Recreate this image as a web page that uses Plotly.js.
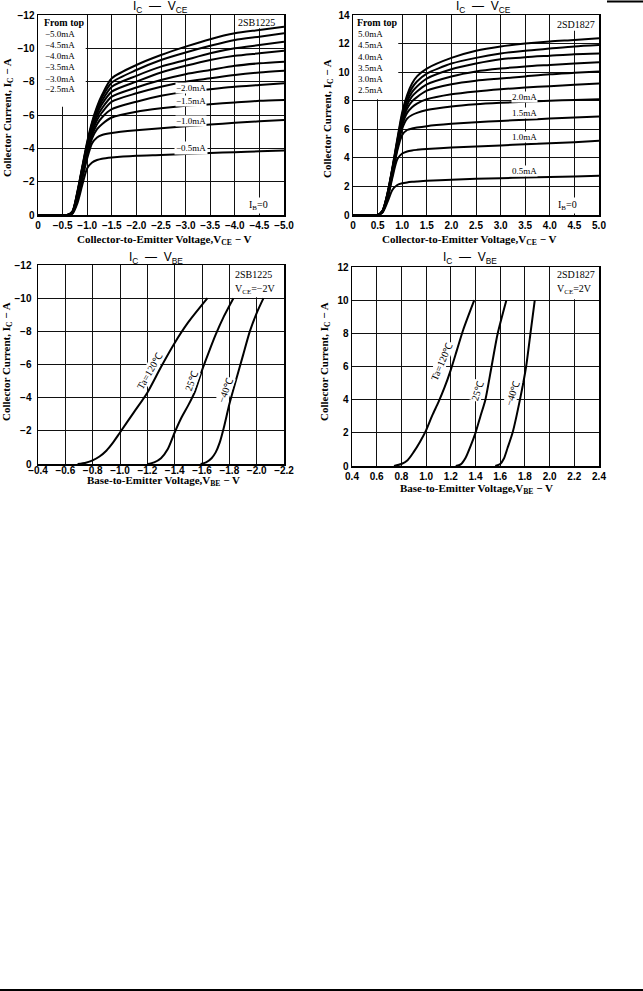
<!DOCTYPE html>
<html><head><meta charset="utf-8">
<script src="https://cdn.plot.ly/plotly-3.0.1.min.js"></script>
<style>html,body{margin:0;padding:0;background:#fff;} #chart{width:643px;height:991px;}</style>
</head><body><div id="chart"></div>
<script>
// ---------- Data: 2SB1225 IC-VCE ----------
const VCE_B = [0, -0.6, -0.7, -0.8, -0.9, -1.0, -1.1, -1.2, -1.3, -1.5, -2.0, -2.5, -3.0, -3.5, -4.0, -4.5, -5.0];
const IB_LABELS = ["5.0mA", "4.5mA", "4.0mA", "3.5mA", "3.0mA", "2.5mA", "2.0mA", "1.5mA", "1.0mA", "0.5mA"];
const IC_B_50 = [0, 0, -0.2, -1.4, -2.9, -4.4, -5.6, -6.5, -7.2, -8.2, -9.0, -9.6, -10.1, -10.55, -10.9, -11.1, -11.3];
const IC_B_45 = [0, 0, -0.2, -1.35, -2.85, -4.3, -5.5, -6.4, -7.05, -7.95, -8.7, -9.3, -9.75, -10.15, -10.5, -10.7, -10.9];
const IC_B_40 = [0, 0, -0.2, -1.3, -2.8, -4.2, -5.4, -6.25, -6.85, -7.7, -8.35, -8.9, -9.3, -9.7, -10.0, -10.2, -10.4];
const IC_B_35 = [0, 0, -0.18, -1.25, -2.75, -4.1, -5.25, -6.1, -6.65, -7.4, -8.0, -8.55, -8.95, -9.3, -9.55, -9.7, -9.85];
const IC_B_30 = [0, 0, -0.17, -1.2, -2.7, -4.0, -5.1, -5.9, -6.4, -7.1, -7.65, -8.1, -8.45, -8.7, -8.95, -9.1, -9.2];
const IC_B_25 = [0, 0, -0.15, -1.15, -2.6, -3.9, -4.95, -5.7, -6.15, -6.8, -7.3, -7.7, -8.0, -8.2, -8.4, -8.55, -8.65];
const IC_B_20 = [0, 0, -0.14, -1.1, -2.5, -3.8, -4.8, -5.45, -5.85, -6.35, -6.8, -7.15, -7.4, -7.55, -7.7, -7.8, -7.9];
const IC_B_15 = [0, 0, -0.12, -1.0, -2.35, -3.65, -4.6, -5.15, -5.45, -5.85, -6.2, -6.4, -6.55, -6.65, -6.75, -6.85, -6.9];
const IC_B_10 = [0, 0, -0.1, -0.9, -2.15, -3.4, -4.3, -4.65, -4.8, -4.92, -5.08, -5.2, -5.32, -5.43, -5.53, -5.62, -5.7];
const IC_B_05 = [0, 0, -0.08, -0.7, -1.8, -2.8, -3.15, -3.3, -3.38, -3.45, -3.55, -3.6, -3.66, -3.72, -3.77, -3.82, -3.87];

// ---------- Data: 2SD1827 IC-VCE ----------
const VCE_D = [0, 0.5, 0.6, 0.7, 0.8, 0.9, 1.0, 1.1, 1.2, 1.3, 1.5, 2.0, 2.5, 3.0, 3.5, 4.0, 4.5, 5.0];
const IC_D_50 = [0, 0, 0.3, 1.5, 3.3, 5.3, 7.2, 8.4, 9.2, 9.7, 10.25, 11.0, 11.5, 11.8, 12.0, 12.15, 12.25, 12.37];
const IC_D_45 = [0, 0, 0.3, 1.5, 3.25, 5.2, 7.0, 8.2, 8.9, 9.35, 9.9, 10.6, 11.0, 11.3, 11.5, 11.65, 11.8, 11.9];
const IC_D_40 = [0, 0, 0.28, 1.45, 3.2, 5.1, 6.85, 7.95, 8.6, 9.0, 9.55, 10.2, 10.6, 10.9, 11.05, 11.15, 11.25, 11.3];
const IC_D_35 = [0, 0, 0.27, 1.4, 3.15, 5.0, 6.7, 7.7, 8.3, 8.65, 9.15, 9.7, 10.05, 10.25, 10.4, 10.5, 10.6, 10.7];
const IC_D_30 = [0, 0, 0.26, 1.35, 3.1, 4.9, 6.5, 7.45, 7.95, 8.25, 8.7, 9.15, 9.4, 9.55, 9.7, 9.85, 9.95, 10.05];
const IC_D_25 = [0, 0, 0.25, 1.3, 3.0, 4.8, 6.3, 7.15, 7.55, 7.8, 8.1, 8.45, 8.65, 8.8, 8.92, 9.02, 9.12, 9.2];
const IC_D_20 = [0, 0, 0.24, 1.25, 2.9, 4.65, 6.05, 6.75, 7.0, 7.15, 7.35, 7.6, 7.75, 7.85, 7.93, 8.0, 8.05, 8.1];
const IC_D_15 = [0, 0, 0.22, 1.2, 2.8, 4.5, 5.6, 5.95, 6.05, 6.12, 6.22, 6.38, 6.5, 6.58, 6.67, 6.75, 6.82, 6.9];
const IC_D_10 = [0, 0, 0.2, 1.1, 2.6, 3.9, 4.3, 4.45, 4.52, 4.56, 4.62, 4.72, 4.8, 4.87, 4.95, 5.03, 5.1, 5.2];
const IC_D_05 = [0, 0, 0.18, 0.9, 1.75, 2.1, 2.22, 2.28, 2.32, 2.35, 2.4, 2.47, 2.53, 2.58, 2.62, 2.66, 2.7, 2.75];

// ---------- Data: 2SB1225 IC-VBE ----------
const VBE_B_120 = [-0.69, -0.75, -0.8, -0.85, -0.9, -0.95, -1.0, -1.1, -1.2, -1.3, -1.4, -1.5, -1.64];
const IC_B_120 = [0, -0.08, -0.22, -0.45, -0.8, -1.3, -1.9, -3.1, -4.3, -5.85, -7.3, -8.55, -10];
const VBE_B_25 = [-1.2, -1.25, -1.3, -1.35, -1.4, -1.45, -1.5, -1.55, -1.6, -1.65, -1.7, -1.76, -1.83];
const IC_B_25T = [0, -0.1, -0.35, -0.9, -1.9, -2.8, -3.55, -4.4, -5.65, -6.75, -7.8, -8.9, -10];
const VBE_B_M40 = [-1.59, -1.63, -1.67, -1.7, -1.73, -1.76, -1.8, -1.85, -1.9, -1.95, -2.0, -2.05];
const IC_B_M40 = [0, -0.1, -0.35, -0.7, -1.3, -2.2, -3.6, -5.1, -6.55, -8.0, -9.1, -10];

// ---------- Data: 2SD1827 IC-VBE ----------
const VBE_D_120 = [0.74, 0.8, 0.85, 0.9, 0.95, 1.0, 1.05, 1.1, 1.15, 1.2, 1.25, 1.3, 1.39];
const IC_D_120 = [0, 0.12, 0.35, 0.85, 1.45, 2.15, 3.05, 3.85, 4.75, 5.8, 7.0, 8.2, 10];
const VBE_D_25 = [1.24, 1.28, 1.32, 1.36, 1.4, 1.44, 1.48, 1.53, 1.58, 1.65];
const IC_D_25T = [0, 0.1, 0.5, 1.2, 2.0, 3.0, 4.0, 6.0, 8.0, 10];
const VBE_D_M40 = [1.56, 1.6, 1.63, 1.66, 1.7, 1.76, 1.81, 1.845, 1.88];
const IC_D_M40 = [0, 0.12, 0.45, 1.1, 2.0, 4.0, 6.0, 8.0, 10];

// ---------- Tick labels ----------
const X1_VALS = [0, -0.5, -1.0, -1.5, -2.0, -2.5, -3.0, -3.5, -4.0, -4.5, -5.0];
const X1_TEXT = ["0", "−0.5", "−1.0", "−1.5", "−2.0", "−2.5", "−3.0", "−3.5", "−4.0", "−4.5", "−5.0"];
const Y1_VALS = [0, -2, -4, -6, -8, -10, -12];
const Y1_TEXT = ["0", "−2", "−4", "−6", "−8", "−10", "−12"];
const X2_VALS = [0, 0.5, 1.0, 1.5, 2.0, 2.5, 3.0, 3.5, 4.0, 4.5, 5.0];
const X2_TEXT = ["0", "0.5", "1.0", "1.5", "2.0", "2.5", "3.0", "3.5", "4.0", "4.5", "5.0"];
const Y2_VALS = [0, 2, 4, 6, 8, 10, 12, 14];
const Y2_TEXT = ["0", "2", "4", "6", "8", "10", "12", "14"];
const X3_VALS = [-0.4, -0.6, -0.8, -1.0, -1.2, -1.4, -1.6, -1.8, -2.0, -2.2];
const X3_TEXT = ["−0.4", "−0.6", "−0.8", "−1.0", "−1.2", "−1.4", "−1.6", "−1.8", "−2.0", "−2.2"];
const Y3_VALS = [0, -2, -4, -6, -8, -10, -12];
const Y3_TEXT = ["0", "−2", "−4", "−6", "−8", "−10", "−12"];
const X4_VALS = [0.4, 0.6, 0.8, 1.0, 1.2, 1.4, 1.6, 1.8, 2.0, 2.2, 2.4];
const X4_TEXT = ["0.4", "0.6", "0.8", "1.0", "1.2", "1.4", "1.6", "1.8", "2.0", "2.2", "2.4"];
const Y4_VALS = [0, 2, 4, 6, 8, 10, 12];
const Y4_TEXT = ["0", "2", "4", "6", "8", "10", "12"];

// ---------- Build ----------
const W = 643, H = 991;
const px = v => v / W, py = v => 1 - v / H;
const curveLine = {color: '#000', width: 2, shape: 'spline', smoothing: 0.7};
function tr(x, y, xa, ya) {
  return {x, y, xaxis: xa, yaxis: ya, type: 'scatter', mode: 'lines', line: curveLine, hoverinfo: 'skip', showlegend: false};
}
const traces = [];
[IC_B_50, IC_B_45, IC_B_40, IC_B_35, IC_B_30, IC_B_25, IC_B_20, IC_B_15, IC_B_10, IC_B_05].forEach(c => traces.push(tr(VCE_B, c, 'x', 'y')));
[IC_D_50, IC_D_45, IC_D_40, IC_D_35, IC_D_30, IC_D_25, IC_D_20, IC_D_15, IC_D_10, IC_D_05].forEach(c => traces.push(tr(VCE_D, c, 'x2', 'y2')));
traces.push(tr(VBE_B_120, IC_B_120, 'x3', 'y3'));
traces.push(tr(VBE_B_25, IC_B_25T, 'x3', 'y3'));
traces.push(tr(VBE_B_M40, IC_B_M40, 'x3', 'y3'));
traces.push(tr(VBE_D_120, IC_D_120, 'x4', 'y4'));
traces.push(tr(VBE_D_25, IC_D_25T, 'x4', 'y4'));
traces.push(tr(VBE_D_M40, IC_D_M40, 'x4', 'y4'));

function ax(domain, range, vals, text, anchor, extra) {
  return Object.assign({domain, range, tickmode: 'array', tickvals: vals, ticktext: text, anchor,
    showgrid: true, gridcolor: '#111', gridwidth: 1, showline: true, linecolor: '#000', linewidth: 1.5,
    mirror: true, zeroline: false, ticks: '', fixedrange: true,
    tickfont: {family: 'Liberation Sans, Arial, sans-serif', size: 10, color: '#000', weight: 'bold'}}, extra || {});
}
const dTopY = [py(215), py(15)];
const dBotYL = [py(464), py(265)];
const dBotYR = [py(466), py(267)];

const serif = 'Liberation Serif, Times New Roman, serif';
const sans = 'Liberation Sans, Arial, sans-serif';
function A(text, x, y, o) {
  return Object.assign({text, xref: 'paper', yref: 'paper', x: px(x), y: py(y), xanchor: 'center', yanchor: 'middle',
    showarrow: false, font: {family: serif, size: 9, color: '#000'}}, o || {});
}
const bold11 = {family: serif, size: 11, color: '#000', weight: 'bold'};
const titleF = {family: sans, size: 12, color: '#000'};
const f10 = {family: serif, size: 10, color: '#000'};
const ann = [
  // titles
  A('I<sub>C</sub>  —  V<sub>CE</sub>', 160, 7, {font: titleF}),
  A('I<sub>C</sub>  —  V<sub>CE</sub>', 483, 7, {font: titleF}),
  A('I<sub>C</sub>  —  V<sub>BE</sub>', 156, 258, {font: titleF}),
  A('I<sub>C</sub>  —  V<sub>BE</sub>', 470, 258, {font: titleF}),
  // axis titles
  A('Collector Current, I<sub>C</sub> − A', 8, 118, {font: bold11, textangle: -90}),
  A('Collector Current, I<sub>C</sub> − A', 328, 119, {font: bold11, textangle: -90}),
  A('Collector Current, I<sub>C</sub> − A', 7, 362, {font: bold11, textangle: -90}),
  A('Collector Current, I<sub>C</sub> − A', 325, 362, {font: bold11, textangle: -90}),
  A('Collector-to-Emitter Voltage,V<sub>CE</sub> − V', 164, 240, {font: bold11}),
  A('Collector-to-Emitter Voltage,V<sub>CE</sub> − V', 469, 240, {font: bold11}),
  A('Base-to-Emitter Voltage,V<sub>BE</sub> − V', 163, 481, {font: bold11}),
  A('Base-to-Emitter Voltage,V<sub>BE</sub> − V', 477, 489, {font: bold11}),
  // top-left in-plot
  A('From top', 42, 23, {xanchor: 'left', font: {family: serif, size: 10, color: '#000', weight: 'bold'}}),
  A('2SB1225', 256, 23, {font: f10}),
  A('I<sub>B</sub>=0', 258, 206, {bgcolor: '#fff', font: f10}),
  A('−2.0mA', 191, 88, {bgcolor: '#fff', borderpad: 0}),
  A('−1.5mA', 191, 101, {bgcolor: '#fff', borderpad: 0}),
  A('−1.0mA', 191, 121, {bgcolor: '#fff', borderpad: 0}),
  A('−0.5mA', 191, 148, {bgcolor: '#fff', borderpad: 1}),
  // top-right in-plot
  A('From top', 355, 23, {xanchor: 'left', font: {family: serif, size: 10, color: '#000', weight: 'bold'}}),
  A('2SD1827', 576, 24, {font: f10}),
  A('I<sub>B</sub>=0', 567, 205, {bgcolor: '#fff', font: f10}),
  A('2.0mA', 524, 97, {bgcolor: '#fff', borderpad: 0}),
  A('1.5mA', 524, 113, {bgcolor: '#fff', borderpad: 0}),
  A('1.0mA', 524, 137, {bgcolor: '#fff', borderpad: 0}),
  A('0.5mA', 524, 171, {bgcolor: '#fff', borderpad: 0}),
  // bottom-left in-plot
  A('2SB1225', 233, 275, {xanchor: 'left', font: f10}),
  A('V<sub>CE</sub>=−2V', 233, 289, {xanchor: 'left', font: f10}),
  A('Ta=120℃', 149, 371, {textangle: -60, bgcolor: '#fff', borderpad: 0, font: f10}),
  A('25℃', 191, 381, {textangle: -70, bgcolor: '#fff', borderpad: 0, font: f10}),
  A('−40℃', 225, 390, {textangle: -70, bgcolor: '#fff', borderpad: 0, font: f10}),
  // bottom-right in-plot
  A('2SD1827', 555, 275, {xanchor: 'left', font: f10}),
  A('V<sub>CE</sub>=2V', 555, 289, {xanchor: 'left', font: f10}),
  A('Ta=120℃', 442, 362, {textangle: -67, bgcolor: '#fff', borderpad: 0, font: f10}),
  A('25℃', 478, 391, {textangle: -72, bgcolor: '#fff', borderpad: 0, font: f10}),
  A('−40℃', 512, 393, {textangle: -72, bgcolor: '#fff', borderpad: 0, font: f10})
];
// legend items (IB list)
const legY = [34, 45, 56, 67, 79, 89];
const legYR = [34, 45, 57, 68, 79, 90];
for (let i = 0; i < 6; i++) {
  ann.push(A('−' + IB_LABELS[i], 43, legY[i], {xanchor: 'left'}));
  ann.push(A(IB_LABELS[i], 356, legYR[i], {xanchor: 'left'}));
}

const shapes = [
  // white boxes over grid (legend areas)
  {type: 'rect', xref: 'x', yref: 'y', x0: 0, x1: -0.97, y0: -6.5, y1: -12, fillcolor: '#fff', line: {width: 0}, layer: 'between'},
  {type: 'rect', xref: 'x', yref: 'y', x0: -4.05, x1: -5, y0: -11.2, y1: -12, fillcolor: '#fff', line: {width: 0}, layer: 'between'},
  {type: 'rect', xref: 'x2', yref: 'y2', x0: 0, x1: 0.92, y0: 8.1, y1: 14, fillcolor: '#fff', line: {width: 0}, layer: 'between'},
  {type: 'rect', xref: 'x2', yref: 'y2', x0: 4.05, x1: 5, y0: 12.9, y1: 14, fillcolor: '#fff', line: {width: 0}, layer: 'between'},
  {type: 'rect', xref: 'x3', yref: 'y3', x0: -1.81, x1: -2.2, y0: -10.05, y1: -12, fillcolor: '#fff', line: {width: 0}, layer: 'between'},
  {type: 'rect', xref: 'x4', yref: 'y4', x0: 2.01, x1: 2.4, y0: 10.05, y1: 12, fillcolor: '#fff', line: {width: 0}, layer: 'between'},
  // page rules
  {type: 'line', xref: 'paper', yref: 'paper', x0: px(607), x1: 1, y0: py(1.5), y1: py(1.5), line: {color: '#000', width: 2}},
  {type: 'line', xref: 'paper', yref: 'paper', x0: 0, x1: 1, y0: py(990), y1: py(990), line: {color: '#000', width: 2}}
];

const layout = {
  width: W, height: H, margin: {l: 0, r: 0, t: 0, b: 0}, paper_bgcolor: '#fff', plot_bgcolor: '#fff',
  showlegend: false,
  xaxis: ax([px(38), px(284)], [0, -5], X1_VALS, X1_TEXT, 'y'),
  yaxis: ax(dTopY, [0, -12], Y1_VALS, Y1_TEXT, 'x'),
  xaxis2: ax([px(353), px(599)], [0, 5], X2_VALS, X2_TEXT, 'y2'),
  yaxis2: ax(dTopY, [0, 14], Y2_VALS, Y2_TEXT, 'x2'),
  xaxis3: ax([px(38), px(284)], [-0.4, -2.2], X3_VALS, X3_TEXT, 'y3', {ticklabelstandoff: -4}),
  yaxis3: ax(dBotYL, [0, -12], Y3_VALS, Y3_TEXT, 'x3', {ticklabelstandoff: 3}),
  xaxis4: ax([px(352), px(599)], [0.4, 2.4], X4_VALS, X4_TEXT, 'y4'),
  yaxis4: ax(dBotYR, [0, 12], Y4_VALS, Y4_TEXT, 'x4'),
  annotations: ann, shapes
};
Plotly.newPlot('chart', traces, layout, {staticPlot: true, displayModeBar: false});
</script></body></html>
